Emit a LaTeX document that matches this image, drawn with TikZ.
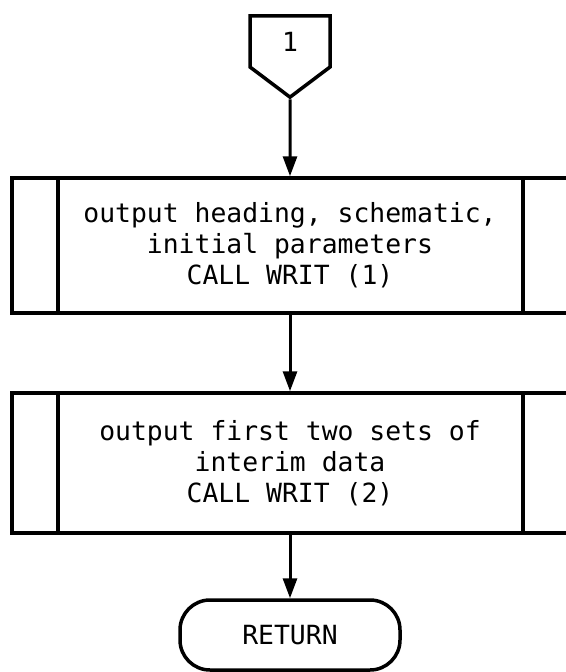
\documentclass[tikz,border=0pt]{standalone}
\usepackage{fontspec}
\setmonofont{DejaVu Sans Mono}
\usetikzlibrary{shapes.symbols, arrows.meta, positioning}

\begin{document}
\begin{tikzpicture} [x=1pt, y=-1pt, node distance = 200pt, on grid, auto,
    font=\ttfamily\fontsize{26.4}{31}\selectfont,
    offpage/.style={draw, line width=3.5pt, shape=signal, signal to=south,
        signal pointer angle=106, minimum width=80pt, minimum height=57pt,
        inner sep=0pt},
    predef/.style={draw, line width=3.5pt, minimum width=556pt, align=center,
        path picture={
            \draw[line width=3.5pt] ([xshift=46pt]path picture bounding box.north west)
                -- ([xshift=46pt]path picture bounding box.south west);
            \draw[line width=3.5pt] ([xshift=-45pt]path picture bounding box.north east)
                -- ([xshift=-45pt]path picture bounding box.south east);
        }},
    term/.style={draw, line width=3.5pt, rounded corners=30pt,
        minimum width=220pt, minimum height=70pt},
    flow/.style={-{Triangle[length=20pt, width=14pt]}, line width=3pt}]
    \useasboundingbox (0,0) rectangle (565,672);

    \node (b1) [predef, minimum height=135pt] at (290,245.5)
        {output heading, schematic,\\initial parameters\\CALL WRIT (1)};
    \node (p1) [offpage, above = 204pt of b1] {1};
    \node (b2) [predef, minimum height=140pt, below = 217.5pt of b1]
        {output first two sets of\\interim data\\CALL WRIT (2)};
    \node (ret) [term, below = 172pt of b2] {RETURN};

    \path[flow] (p1) edge (b1);
    \path[flow] (b1) edge (b2);
    \path[flow] (b2) edge (ret);
\end{tikzpicture}
\end{document}
